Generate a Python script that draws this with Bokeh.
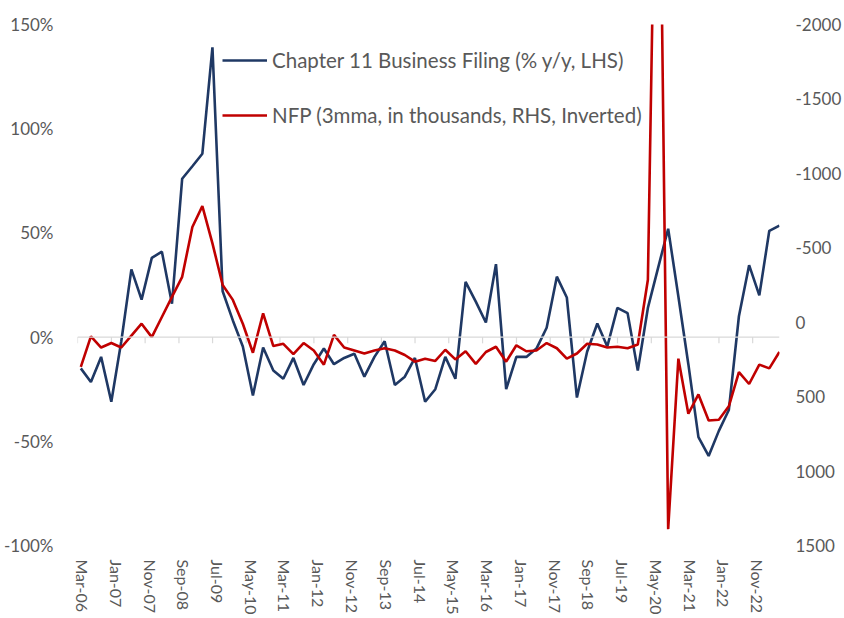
import pandas as pd
from bokeh.plotting import figure
from bokeh.models import (Range1d, LinearAxis, FixedTicker, PrintfTickFormatter,
                          Span, Legend, LegendItem, ColumnDataSource)
from bokeh.embed import file_html
from bokeh.resources import INLINE

# ---- data (quarter-end observations, Mar-06 .. Jun-23) ----
quarter_ends = pd.date_range("2006-03-31", periods=70, freq="QE")

chapter11_yoy = [
    -15, -21.5, -9.5, -31, -2, 32.5, 18, 38, 41, 16,
    76, 82, 88, 139, 22, 8, -4.5, -28, -5, -16,
    -20, -10, -23, -13, -5.5, -13, -10, -8, -19, -9.5,
    -2, -23, -19, -10, -31, -25, -9.5, -20, 26.5, 17,
    7, 35, -25, -9.5, -9.5, -5.5, 4.5, 29, 19, -29,
    -7, 6.5, -4.5, 14, 11.5, -16, 14, 33, 52, 19.5,
    -13, -48, -57, -45, -35, 10, 34.5, 20, 51, 53.5,
]

nfp_3mma = [
    300, 95, 170, 140, 170, 90, 10, 100, -35, -170,
    -305, -640, -780, -530, -250, -150, 10, 205, -60, 160,
    145, 215, 140, 190, 285, 85, 170, 190, 210, 190,
    175, 190, 220, 265, 245, 260, 185, 250, 195, 280,
    200, 165, 265, 155, 195, 190, 140, 175, 245, 210,
    145, 150, 170, 165, 175, 150, -285, -4300, 1390, 245,
    615, 485, 660, 655, 565, 335, 415, 285, 310, 200,
]

tick_labels = ["Mar-06", "Jan-07", "Nov-07", "Sep-08", "Jul-09", "May-10",
               "Mar-11", "Jan-12", "Nov-12", "Sep-13", "Jul-14", "May-15",
               "Mar-16", "Jan-17", "Nov-17", "Sep-18", "Jul-19", "May-20",
               "Mar-21", "Jan-22", "Nov-22"]

legend_labels = ["Chapter 11 Business Filing (% y/y, LHS)",
                 "NFP (3mma, in thousands, RHS, Inverted)"]

# ---- x coordinates in days since axis start ----
origin = pd.Timestamp("2006-03-01")
x_days = [(d - origin).days for d in quarter_ends]
tick_dates = [pd.to_datetime("01-" + t, format="%d-%b-%y") for t in tick_labels]
tick_days = [(d - origin).days for d in tick_dates]
x_end = (pd.Timestamp("2023-07-01") - origin).days
# rotated labels sit a little right of their tick mark in the original
label_shift_days = 45
label_days = [d + label_shift_days for d in tick_days]

BLUE = "#1F3864"
RED = "#C00000"
GREY_TXT = "#595959"
GREY_LINE = "#D9D9D9"
FONT = "Lato"

p = figure(frame_width=702, frame_height=521, output_backend="svg",
           toolbar_location=None, x_range=Range1d(0, x_end),
           y_range=Range1d(-100, 150))
p.min_border_left = 72
p.min_border_top = 24
p.min_border_right = 10
p.min_border_bottom = 10
p.outline_line_color = None
p.xgrid.visible = False
p.ygrid.visible = False
p.background_fill_color = "white"
p.border_fill_color = "white"

p.extra_y_ranges = {"nfp": Range1d(start=1500, end=-2000)}

# left axis
ly = p.yaxis[0]
ly.ticker = FixedTicker(ticks=[-100, -50, 0, 50, 100, 150])
ly.formatter = PrintfTickFormatter(format="%d%%")
ly.axis_line_color = None
ly.major_tick_line_color = None
ly.minor_tick_line_color = None
ly.major_label_standoff = 18
ly.major_label_text_font = FONT
ly.major_label_text_font_size = "17px"
ly.major_label_text_color = GREY_TXT

# right axis
ry = LinearAxis(y_range_name="nfp",
                ticker=FixedTicker(ticks=[-2000, -1500, -1000, -500, 0, 500, 1000, 1500]),
                formatter=PrintfTickFormatter(format="%d"))
ry.axis_line_color = None
ry.major_tick_line_color = None
ry.minor_tick_line_color = None
ry.major_label_standoff = 10
ry.major_label_text_font = FONT
ry.major_label_text_font_size = "17px"
ry.major_label_text_color = GREY_TXT
p.add_layout(ry, "right")

# bottom axis
bx = p.xaxis[0]
bx.ticker = FixedTicker(ticks=label_days)
bx.major_label_overrides = {d: t for d, t in zip(label_days, tick_labels)}
bx.major_label_orientation = "vertical"
bx.axis_line_color = None
bx.major_tick_line_color = None
bx.minor_tick_line_color = None
bx.major_label_standoff = 8
bx.major_label_text_font = FONT
bx.major_label_text_font_size = "16px"
bx.major_label_text_color = GREY_TXT

# zero line with small tick marks (category axis crossing at 0%)
p.add_layout(Span(location=0, dimension="width", line_color=GREY_LINE, line_width=1.2))
p.segment(x0=tick_days, y0=[0] * len(tick_days), x1=tick_days,
          y1=[-3] * len(tick_days), line_color=GREY_LINE, line_width=1.2)

src = ColumnDataSource(dict(x=x_days, ch11=chapter11_yoy, nfp=nfp_3mma))
r_blue = p.line("x", "ch11", source=src, line_color=BLUE, line_width=2.6)
r_red = p.line("x", "nfp", source=src, line_color=RED, line_width=2.6,
               y_range_name="nfp")

legend = Legend(items=[LegendItem(label=legend_labels[0], renderers=[r_blue]),
                       LegendItem(label=legend_labels[1], renderers=[r_red])],
                location=(145, 418), orientation="vertical")
legend.glyph_width = 45
legend.glyph_height = 20
legend.label_height = 20
legend.spacing = 31
legend.padding = 0
legend.margin = 0
legend.label_standoff = 5
legend.border_line_color = None
legend.background_fill_alpha = 0
legend.label_text_font = FONT
legend.label_text_font_size = "20.5px"
legend.label_text_color = GREY_TXT
legend.level = "underlay"
p.add_layout(legend, "center")

open("out.html", "w").write(file_html(p, INLINE))
